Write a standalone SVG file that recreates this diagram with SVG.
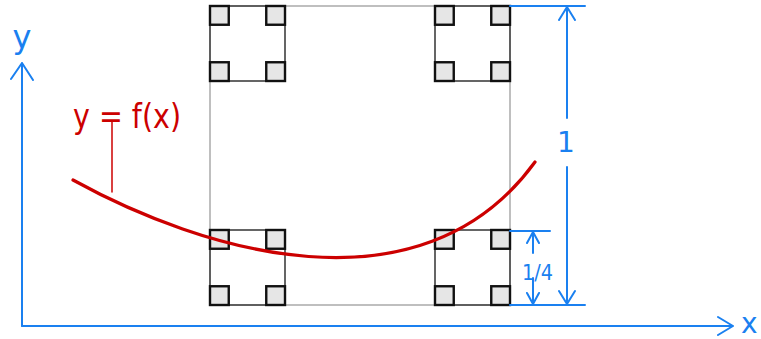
<svg xmlns="http://www.w3.org/2000/svg" width="761" height="339" viewBox="0 0 761 339">
<defs>
<style>
.big{fill:none;stroke:#aaaaaa;stroke-width:1.5}
.sub{fill:none;stroke:#555555;stroke-width:1.8}
.tiny{fill:#e6e6e6;stroke:#111111;stroke-width:2.4}
.blue{fill:none;stroke:#1a80f0;stroke-width:2;stroke-linecap:round;stroke-linejoin:round}
.bt{fill:#1a80f0;font-family:"DejaVu Sans",sans-serif}
.red{fill:none;stroke:#cc0000;stroke-linecap:round}
.rt{fill:#cc0000;font-family:"DejaVu Sans",sans-serif}
</style>
<g id="cell">
<rect class="sub" x="0" y="0" width="75" height="75"/>
<rect class="tiny" x="0" y="0" width="18.75" height="18.75"/>
<rect class="tiny" x="56.25" y="0" width="18.75" height="18.75"/>
<rect class="tiny" x="0" y="56.25" width="18.75" height="18.75"/>
<rect class="tiny" x="56.25" y="56.25" width="18.75" height="18.75"/>
</g>
</defs>
<rect width="761" height="339" fill="#ffffff"/>
<g id="square">
<rect class="big" x="210" y="6" width="300" height="299"/>
</g>
<g id="cell-tl"><use href="#cell" x="210" y="6"/></g>
<g id="cell-tr"><use href="#cell" x="435" y="6"/></g>
<g id="cell-bl"><use href="#cell" x="210" y="230"/></g>
<g id="cell-br"><use href="#cell" x="435" y="230"/></g>
<g id="axes">
<path class="blue" d="M22,326 V63 M11,79 L22,63 L33,80"/>
<path class="blue" d="M22,326 H733 M718,317 L733,326 L718,335"/>
<text class="bt" x="22" y="48" font-size="32" text-anchor="middle">y</text>
<text class="bt" x="741" y="333" font-size="28">x</text>
</g>
<g id="dimensions">
<path class="blue" d="M510,6 H585 M510,305 H585 M510,231 H550"/>
<path class="blue" d="M567,6 V118 M567,167 V305 M559,20 L567,7 L575,20 M559,291 L567,304 L575,291"/>
<path class="blue" d="M533,231 V253 M533,278 V305 M527,243 L533,232 L539,243 M527,293 L533,304 L539,293"/>
<text class="bt" x="566" y="152" font-size="28" text-anchor="middle">1</text>
<text class="bt" x="522" y="280" font-size="22" textLength="31" lengthAdjust="spacingAndGlyphs">1/4</text>
</g>
<g id="curve">
<path class="red" stroke-width="3.2" d="M73,180 C200,250 420,320 535,162"/>
<path class="red" stroke-width="1.5" d="M112,122 V192"/>
<text class="rt" x="73" y="128" font-size="33" textLength="108" lengthAdjust="spacingAndGlyphs">y = f(x)</text>
</g>
</svg>
